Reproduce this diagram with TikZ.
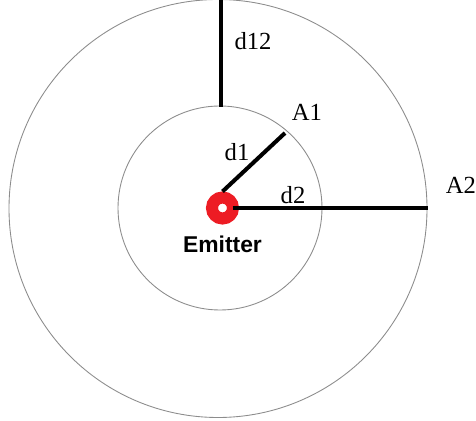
\documentclass[tikz,border=0pt]{standalone}
\usepackage{fontspec}
\setmainfont{Liberation Serif}
\newfontfamily\emitterfont{Liberation Sans}
\usetikzlibrary{positioning}
\definecolor{emitred}{RGB}{237,28,36}
\definecolor{ringgray}{RGB}{140,140,140}

\begin{document}
\begin{tikzpicture}[x=0.02cm, y=-0.02cm,
		ring/.style={draw=ringgray, line width=0.5pt},
		dist/.style={draw=black, line width=2.3pt},
		label/.style={font=\fontsize{14}{16}\selectfont, inner sep=0pt},
		emitter/.style={circle, draw=emitred, line width=0.24cm, minimum size=0.42cm, inner sep=0pt}
		]
		\useasboundingbox (0,0) rectangle (476,421);
		
		% Circles
		\draw[ring] (218,208.5) circle[radius=209];
		\draw[ring] (220,208) circle[radius=102];
		
		% Emitter
		\node[emitter] (emitter) at (222.5,208) {};
		\node[font=\emitterfont\bfseries\fontsize{13}{15}\selectfont, inner sep=0pt, below=0.22cm of emitter] (emitlabel) {Emitter};
		
		% Points
		\coordinate (A1) at (285,133);
		\coordinate (A2) at (428,208);
		\coordinate (outtop) at (221,0);
		\coordinate (intop) at (221,107);
		
		% Distances
		\draw[dist] (emitter.north) -- (A1);
		\draw[dist, shorten <=0.2cm] (emitter.center) -- (A2);
		\draw[dist] (outtop) -- (intop);
		
		% Labels
		\node[label] (lbld1) at (237,152) {d1};
		\node[label] (lbld2) at (293,195) {d2};
		\node[label] (lbld12) at (253,41) {d12};
		\node[label] (lblA1) at (307,112) {A1};
		\node[label] (lblA2) at (461,185) {A2};
		
	\end{tikzpicture}
\end{document}
